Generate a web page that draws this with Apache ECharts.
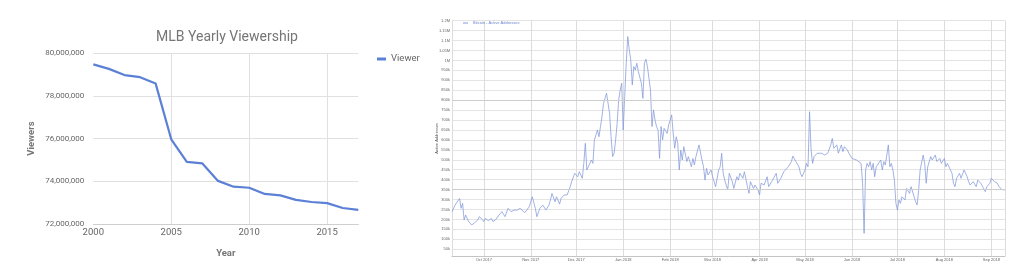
<!DOCTYPE html>
<html>
<head>
<meta charset="utf-8">
<script src="https://cdn.jsdelivr.net/npm/echarts@6/dist/echarts.min.js"></script>
<style>
html,body{margin:0;padding:0;background:#fff;}
#chart{width:1024px;height:269px;}
</style>
</head>
<body>
<div id="chart"></div>
<script>
// ---- Left chart: MLB Yearly Viewership ----
const years = [2000,2001,2002,2003,2004,2005,2006,2007,2008,2009,2010,2011,2012,2013,2014,2015,2016,2017];
const viewers = [79480000,79270000,78980000,78880000,78580000,75970000,74910000,74840000,74020000,73750000,73700000,73410000,73340000,73130000,73030000,72980000,72750000,72660000];

// ---- Right chart: daily active addresses (day offsets from start date) ----
const startDate = [2017, 9, 1]; // 1 Oct 2017 (month index 9)
const dayOffsets = [
-21,-19,-16,-15,-14,-13,-12,-10,-8,-6,-4,-3,-1,0,1,3,5,6,8,10,12,14,16,18,20,22,24,27,30,32,34,35,37,39,40,41,43,44,45,47,48,50,51,53,55,57,58,60,62,63,65,66,67,68,69,71,72,73,75,76,77,78,79,81,82,83,84,85,86,87,88,89,90,91,92,93,94,95,96,97,98,99,100,101,102,
104,105,106,107,108,110,111,112,113,114,115,116,117,118,119,121,122,123,124,125,126,127,128,129,130,131,132,134,135,137,138,139,140,142,144,145,146,147,148,150,151,153,155,156,157,158,159,161,162,164,165,167,168,169,171,172,174,175,176,178,179,181,182,183,185,187,188,190,191,193,194,196,198,201,203,204,206,208,209,210,212,213,214,215,216,217,218,220,221,223,225,
227,229,230,231,233,234,236,237,238,240,241,243,244,246,247,249,250,251,252,253,254,255,256,257,258,259,260,262,263,264,265,266,267,268,269,270,271,272,273,274,275,276,278,279,281,282,284,285,286,287,288,290,291,292,293,295,296,298,299,301,302,304,305,306,308,309,310,311,312,314,315,317,319,320,321,323,325,326,328,329,331,332,334,335,336,337,339,340,342,344
];
const activeAddresses = [
239000,272000,306000,256000,281000,197000,222000,189000,172000,184000,197000,214000,200000,189000,205000,194000,205000,189000,200000,222000,239000,214000,256000,239000,247000,247000,256000,234000,264000,314000,256000,214000,256000,272000,281000,247000,272000,298000,331000,289000,314000,277000,306000,323000,323000,365000,390000,432000,415000,440000,407000,482000,583000,449000,457000,499000,482000,600000,650000,616000,667000,717000,784000,835000,826000,734000,616000,516000,533000,600000,684000,801000,851000,885000,650000,818000,986000,1120000,1053000,1002000,877000,969000,952000,986000,944000,
885000,809000,986000,1006000,969000,851000,667000,751000,700000,667000,650000,507000,667000,600000,658000,633000,675000,700000,726000,633000,558000,616000,583000,449000,549000,499000,566000,491000,516000,465000,507000,474000,516000,575000,499000,465000,398000,457000,424000,449000,415000,365000,449000,465000,533000,432000,398000,348000,432000,390000,356000,415000,398000,432000,407000,440000,365000,331000,390000,356000,373000,348000,323000,382000,373000,415000,365000,390000,382000,432000,382000,407000,440000,465000,491000,519000,491000,465000,432000,415000,449000,482000,465000,742000,549000,482000,516000,533000,524000,533000,524000,
533000,575000,608000,558000,575000,533000,575000,541000,566000,549000,533000,507000,516000,499000,507000,482000,382000,130000,449000,482000,465000,491000,449000,482000,415000,465000,474000,499000,449000,491000,474000,482000,575000,465000,482000,449000,398000,281000,247000,298000,281000,314000,298000,356000,331000,365000,314000,289000,273000,348000,449000,524000,482000,382000,465000,516000,499000,524000,491000,507000,482000,507000,465000,482000,449000,432000,382000,365000,407000,432000,407000,449000,415000,390000,373000,390000,365000,398000,382000,390000,340000,365000,382000,407000,415000,390000,382000,365000,351000,348000
];
const rightMinDay = -21;
const rightMaxDay = 344;

function dayToTime(d){ return new Date(startDate[0], startDate[1], startDate[2] + d).getTime(); }
const rightSeries = dayOffsets.map((d,i)=>[dayToTime(d), activeAddresses[i]]);
const leftSeries = years.map((y,i)=>[y, viewers[i]]);

const chart = echarts.init(document.getElementById('chart'), null, {renderer:'canvas'});
const DAY = 86400000;
chart.setOption({
  animation:false,
  backgroundColor:'#ffffff',
  title:[{
    text:'MLB Yearly Viewership',
    left:222, top:25, textAlign:'center',
    textStyle:{fontFamily:'Roboto', fontSize:14, fontWeight:'normal', color:'#757575'}
  }],
  legend:[{
    data:['Viewers'], left:372, top:49, icon:'rect', itemWidth:9, itemHeight:3, itemGap:4,
    textStyle:{fontFamily:'Roboto', fontSize:9.5, color:'#666', width:31, overflow:'truncate', ellipsis:''}
  },{
    data:['Bitcoin - Active Addresses'], left:458, top:16, icon:'rect', itemWidth:5, itemHeight:1, itemGap:2,
    textStyle:{fontFamily:'Liberation Sans', fontSize:4, color:'#6f86cc'}
  }],
  grid:[
    {left:93.3, top:53.3, width:265, height:170.7, containLabel:false},
    {left:452, top:20.7, width:553, height:235.3, containLabel:false}
  ],
  xAxis:[{
    gridIndex:0, type:'value', min:2000, max:2017, interval:5,
    name:'Year', nameLocation:'middle', nameGap:25, nameMoveOverlap:false,
    nameTextStyle:{fontFamily:'Roboto', fontSize:9.5, fontWeight:'bold', color:'#777'},
    axisLine:{show:true, lineStyle:{color:'#cfcfcf'}},
    axisTick:{show:false},
    axisLabel:{fontFamily:'Roboto', fontSize:9.5, color:'#666', margin:4, showMaxLabel:false, formatter:v=>String(v)},
    splitLine:{show:true, showMinLine:false, showMaxLine:false, lineStyle:{color:'#e0e0e0', width:1}}
  },{
    gridIndex:1, type:'time', min:dayToTime(rightMinDay), max:dayToTime(rightMaxDay),
    minInterval:28*DAY, maxInterval:31*DAY, splitNumber:12,
    axisLine:{show:true, lineStyle:{color:'#c4c4c4', width:1}},
    axisTick:{show:false},
    axisLabel:{fontFamily:'Liberation Sans', fontSize:4, color:'#666', margin:1.5, formatter:'{MMM} {yyyy}', hideOverlap:false},
    splitLine:{show:true, lineStyle:{color:'#dcdcdc', width:1}}
  }],
  yAxis:[{
    gridIndex:0, type:'value', min:72000000, max:80000000, interval:2000000,
    name:'Viewers', nameLocation:'middle', nameGap:57, nameMoveOverlap:false,
    nameTextStyle:{fontFamily:'Roboto', fontSize:9.5, fontWeight:'bold', color:'#777'},
    axisLine:{show:false}, axisTick:{show:false},
    axisLabel:{fontFamily:'Roboto', fontSize:8, color:'#666', margin:9},
    splitLine:{show:true, lineStyle:{color:'#e0e0e0', width:1}}
  },{
    gridIndex:1, type:'value', min:16000, max:1200000, minInterval:50000, maxInterval:50000, splitNumber:24,
    name:'Active Addresses', nameLocation:'middle', nameGap:13, nameMoveOverlap:false,
    nameTextStyle:{fontFamily:'Liberation Sans', fontSize:4, color:'#555'},
    axisLine:{show:false}, axisTick:{show:false},
    axisLabel:{fontFamily:'Liberation Sans', fontSize:4, color:'#666', margin:2, showMinLabel:false,
      formatter:v=> v>=1000000 ? (v/1000000)+'M' : (v/1000)+'k'},
    splitLine:{show:true, lineStyle:{color:'#e4e4e4', width:1}}
  }],
  series:[{
    name:'Viewers', type:'line', xAxisIndex:0, yAxisIndex:0, data:leftSeries,
    showSymbol:false, symbol:'none', smooth:false,
    lineStyle:{color:'#5b80d5', width:2.2}, itemStyle:{color:'#5b80d5'}
  },{
    name:'Bitcoin - Active Addresses', type:'line', xAxisIndex:1, yAxisIndex:1, data:rightSeries,
    showSymbol:false, symbol:'none',
    lineStyle:{color:'#8398da', width:0.75}, itemStyle:{color:'#8398da'},
    markLine:{silent:true, symbol:['none','none'], label:{show:false},
      lineStyle:{color:'#cdcdcd', type:'solid', width:1},
      data:[{yAxis:800000},{yAxis:350000}]}
  }]
});
</script>
</body>
</html>
